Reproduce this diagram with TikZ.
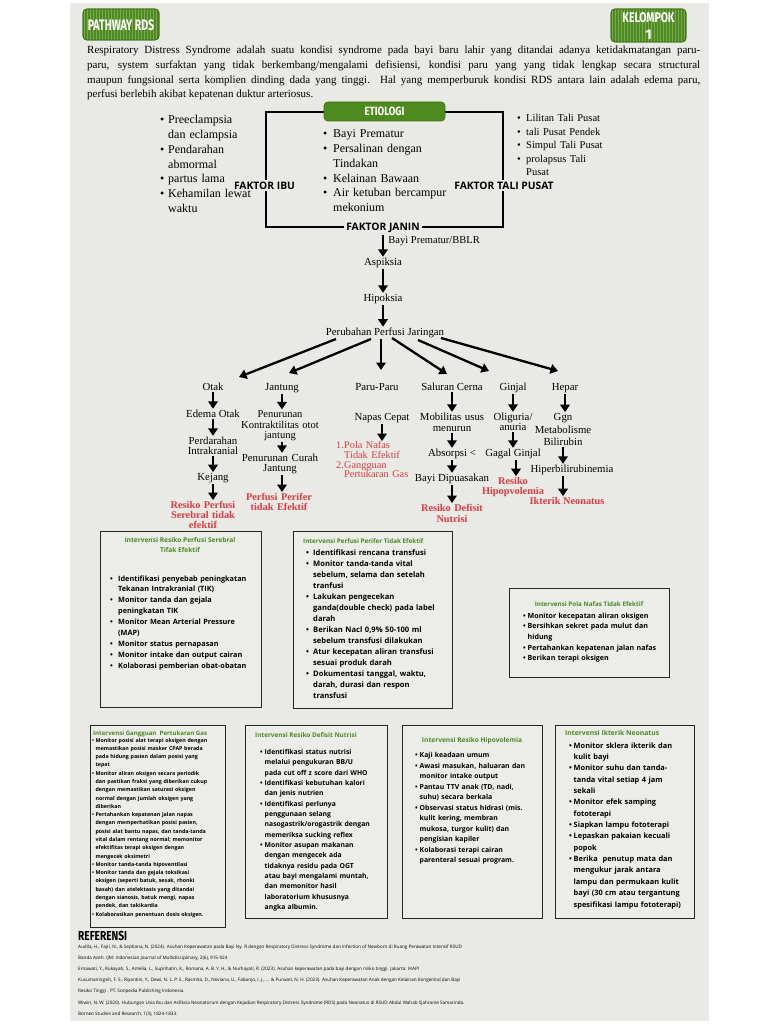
\documentclass[tikz,border=0pt]{standalone}
\usepackage{fontspec}
\usepackage{graphicx}
\usetikzlibrary{arrows.meta}
\setmainfont{Liberation Serif}
\newfontfamily\osans{Open Sans}
\newfontfamily\firaf{Fira Sans}
\definecolor{panel}{HTML}{E9E9E5}
\definecolor{boxfill}{HTML}{ECECE9}
\definecolor{gbox}{HTML}{4E8B1E}
\definecolor{gline}{HTML}{3C7412}
\definecolor{gtxt}{HTML}{4A8A22}
\definecolor{rtxt}{HTML}{E23A3F}
\newlength\bw
\newcommand\nl{\hfil\break}
\newcommand\itm[1]{\noindent\hangindent=\bw\hangafter=1\makebox[\bw][l]{•}#1\par}
\newcommand\nitm[2]{\noindent\hangindent=\bw\hangafter=1\makebox[\bw][l]{#1}#2\par}
\newcommand\fsz[2]{\fontsize{#1}{#2}\selectfont}
\begin{document}
\begin{tikzpicture}[x=1pt,y=-1pt,
  arr/.style={line width=2.3pt,-{Triangle[width=9.5pt,length=7.5pt]}},
  fl/.style={font=\fsz{10.8}{10.8}, inner sep=1pt, anchor=base},
  flm/.style={inner sep=1pt, anchor=base, align=center, text width=110pt},
  rtx/.style={text=rtxt},
  ibox/.style={draw=black!85, line width=0.8pt, fill=boxfill},
  gbx/.style={draw=gline, line width=0.8pt, fill=gbox, rounded corners=4pt},
  gtitle/.style={text=gtxt, inner sep=0pt},
  items/.style={anchor=base west, align=left, inner sep=0pt, text width=#1},
  fak/.style={font=\osans\bfseries\fsz{10.3}{10.3}, fill=panel, inner sep=2pt},
  wt/.style={text=white, font=\firaf\bfseries}
]
\useasboundingbox (0,0) rectangle (768,1024);
\fill[white] (0,0) rectangle (768,1024);
\fill[panel] (70,3) rectangle (709,1021);

% ---------- header ----------
\fill[gbx] (83,9) rectangle (159,40);
\begin{scope}
\clip[rounded corners=4pt] (83,9) rectangle (159,40);
\draw[gbox!75!white, line width=0.25pt, step=3] (83,9) grid (159,40);
\end{scope}
\draw[gline, line width=0.8pt, rounded corners=4pt] (83,9) rectangle (159,40);
\node[wt, font=\firaf\bfseries\fsz{15.2}{15.2}] (ttl) at (121,25) {\scalebox{0.69}[1]{PATHWAY RDS}};

\fill[gbx] (611,9) rectangle (686,42);
\begin{scope}
\clip[rounded corners=4pt] (611,9) rectangle (686,42);
\draw[gbox!75!white, line width=0.25pt, step=3] (611,9) grid (686,42);
\end{scope}
\draw[gline, line width=0.8pt, rounded corners=4pt] (611,9) rectangle (686,42);
\node[wt, font=\firaf\bfseries\fsz{14}{16.5}, align=center] (kel) at (648.5,26) {\scalebox{0.74}[1]{KELOMPOK}\\1};

\begin{scope}[every node/.style={anchor=base west, inner sep=0pt, font=\fsz{11}{11}}]
\node (para1) at (87,53.5) {\makebox[613pt][s]{Respiratory Distress Syndrome adalah suatu kondisi syndrome pada bayi baru lahir yang ditandai adanya ketidakmatangan paru-}};
\node (para2) at (87,68.5) {\makebox[613pt][s]{paru, system surfaktan yang tidak berkembang/mengalami defisiensi, kondisi paru yang yang tidak lengkap secara structural}};
\node (para3) at (87,83.5) {\makebox[613pt][s]{maupun fungsional serta komplien dinding dada yang tinggi. Hal yang memperburuk kondisi RDS antara lain adalah edema paru,}};
\node (para4) at (87,97.5) {perfusi berlebih akibat kepatenan duktur arteriosus.};
\end{scope}

% ---------- etiologi ----------
\draw[line width=2.2pt] (266,112) rectangle (503,227);
\fill[gbx] (324,102) rectangle (445,121);
\node[wt, font=\firaf\bfseries\fsz{12}{12}] (etio) at (384.5,111.5) {\scalebox{0.8}[1]{ETIOLOGI}};
\node[fak] (fibu) at (264.5,185.5) {FAKTOR IBU};
\node[fak] (ftali) at (504,185.5) {FAKTOR TALI PUSAT};
\node[fak] (fjanin) at (383,227.5) {FAKTOR JANIN};

\node[items=110pt, font=\fsz{12}{14.7}] (lstibu) at (160,124) {\setlength\bw{8pt}%
\itm{Preeclampsia\nl dan eclampsia}\itm{Pendarahan\nl abmormal}\itm{partus lama}\itm{Kehamilan lewat\nl waktu}};
\node[items=140pt, font=\fsz{12}{14.7}] (lstjanin) at (323,138) {\setlength\bw{10pt}%
\itm{Bayi Prematur}\itm{Persalinan dengan\nl Tindakan}\itm{Kelainan Bawaan}\itm{Air ketuban bercampur\nl mekonium}};
\node[items=100pt, font=\fsz{10.5}{13.5}] (lsttali) at (517,122) {\setlength\bw{9pt}%
\itm{Lilitan Tali Pusat}\itm{tali Pusat Pendek}\itm{Simpul Tali Pusat}\itm{prolapsus Tali\nl Pusat}};

% ---------- main flow ----------
\node[fl] (aspiksia) at (383,265.5) {Aspiksia};
\node[fl] (hipoksia) at (383,301.5) {Hipoksia};
\node[fl] (perf) at (385,335.5) {Perubahan Perfusi Jaringan};
\draw[arr] (fjanin.south) -- (fjanin.south |- aspiksia.north)
  node[pos=0.3, right=1pt, font=\fsz{10.5}{10.5}] (bblr) {Bayi Prematur/BBLR};
\draw[arr] (aspiksia.south) -- (aspiksia.south |- hipoksia.north);
\draw[arr] (hipoksia.south) -- (hipoksia.south |- perf.north);

\coordinate (f1a) at (336,339); \coordinate (f1b) at (239,377);
\coordinate (f2a) at (371,339); \coordinate (f2b) at (289,373);
\coordinate (f3a) at (381,339); \coordinate (f3b) at (381,370);
\coordinate (f4a) at (392,338); \coordinate (f4b) at (447,374);
\coordinate (f5a) at (418,340); \coordinate (f5b) at (489,371);
\coordinate (f6a) at (441,338); \coordinate (f6b) at (558,371);
\foreach \i in {1,...,6} {\draw[arr] (f\i a) -- (f\i b);}

\node[fl] (otak) at (213,390.5) {Otak};
\node[fl] (jantung) at (282,390.5) {Jantung};
\node[fl] (paru) at (377,390.5) {Paru-Paru};
\node[fl] (cerna) at (452,390.5) {Saluran Cerna};
\node[fl] (ginjal) at (513,390.5) {Ginjal};
\node[fl] (hepar) at (565,390.5) {Hepar};

% Otak
\node[fl] (edema) at (213,417.5) {Edema Otak};
\node[flm, font=\fsz{10.8}{10}] (perdarahan) at (213,444.5) {Perdarahan\\Intrakranial};
\node[fl] (kejang) at (213,480.5) {Kejang};
\node[flm, rtx, font=\bfseries\fsz{10.3}{9.8}] (rpsere) at (203,508.5) {Resiko Perfusi\\Serebral tidak\\efektif};
\draw[arr] (otak.south) -- (otak.south |- edema.north);
\draw[arr] (edema.south) -- (edema.south |- perdarahan.north);
\draw[arr] (edema.south |- perdarahan.south) -- (edema.south |- kejang.north);
\draw[arr] (kejang.south) -- (kejang.south |- rpsere.north);

% Jantung
\node[flm, font=\fsz{10.5}{10.5}] (penurunan) at (280,417.5) {Penurunan\\Kontraktilitas otot\\jantung};
\node[flm, font=\fsz{10.8}{9.5}] (curah) at (280,461.5) {Penurunan Curah\\Jantung};
\node[flm, rtx, font=\bfseries\fsz{10.3}{10}] (perifer) at (279,500.5) {Perfusi Perifer\\tidak Efektif};
\draw[arr] (jantung.south) -- (jantung.south |- penurunan.north);
\draw[arr] (jantung.south |- penurunan.south) -- (jantung.south |- curah.north);
\draw[arr] (jantung.south |- curah.south) -- (jantung.south |- perifer.north);

% Paru
\node[fl] (napas) at (382,420.5) {Napas Cepat};
\node[items=80pt, rtx, font=\fsz{10.3}{9.8}] (pola) at (336,448.5) {\setlength\bw{8pt}%
\nitm{1.}{Pola Nafas\nl Tidak Efektif}\nitm{2.}{Gangguan\nl Pertukaran Gas}};
\draw[arr] (napas.south) -- (napas.south |- pola.north);

% Saluran cerna
\node[flm, font=\fsz{10.8}{11}] (mobilitas) at (452,420.5) {Mobilitas usus\\menurun};
\node[fl] (absorpsi) at (452,456.5) {Absorpsi <};
\node[fl] (dipuasakan) at (452,481.5) {Bayi Dipuasakan};
\node[flm, rtx, font=\bfseries\fsz{10.3}{11}] (defisit) at (452,511.5) {Resiko Defisit\\Nutrisi};
\draw[arr] (cerna.south) -- (cerna.south |- mobilitas.north);
\draw[arr] (cerna.south |- mobilitas.south) -- (cerna.south |- absorpsi.north);
\draw[arr] (absorpsi.south) -- (absorpsi.south |- dipuasakan.north);
\draw[arr] (dipuasakan.south) -- (dipuasakan.south |- defisit.north);

% Ginjal
\node[flm, font=\fsz{10.8}{10}] (oliguria) at (513,420.5) {Oliguria/\\anuria};
\node[fl] (gagal) at (513,456.5) {Gagal Ginjal};
\node[flm, rtx, font=\bfseries\fsz{10.3}{10}] (hipovol) at (513,484.5) {Resiko\\Hipopvolemia};
\draw[arr] (ginjal.south) -- (ginjal.south |- oliguria.north);
\draw[arr] (ginjal.south |- oliguria.south) -- (ginjal.south |- gagal.north);
\draw[arr] ([xshift=3pt]gagal.south) -- ([xshift=3pt]gagal.south |- hipovol.north);

% Hepar
\node[flm, font=\fsz{10.8}{12.5}] (ggn) at (563,420.5) {Ggn\\Metabolisme\\Bilirubin};
\node[fl] (hiper) at (572,472.5) {Hiperbilirubinemia};
\node[fl, rtx, font=\bfseries\fsz{10.3}{10.3}] (ikterik) at (567,504.5) {Ikterik Neonatus};
\draw[arr] (hepar.south) -- (hepar.south |- ggn.north);
\draw[arr] (ggn.south) -- (ggn.south |- hiper.north);
\draw[arr] (ggn.south |- hiper.south) -- (ggn.south |- ikterik.north);

% ---------- intervention boxes row 1 ----------
\draw[ibox] (100,531) rectangle (261,707) node[pos=0, inner sep=0pt] (bA) {};
\node[gtitle, align=center, anchor=base, font=\osans\bfseries\fsz{6.6}{9.3}] (tA) at (180,552) {Intervensi Resiko Perfusi Serebral\\Tifak Efektif};
\node[items=150pt, font=\osans\bfseries\fsz{7.3}{10.9}] (iA) at (110,581) {\setlength\bw{8pt}%
\itm{Identifikasi penyebab peningkatan\nl Tekanan Intrakranial (TIK)}%
\itm{Monitor tanda dan gejala\nl peningkatan TIK}%
\itm{Monitor Mean Arterial Pressure\nl (MAP)}%
\itm{Monitor status pernapasan}%
\itm{Monitor intake dan output cairan}%
\itm{Kolaborasi pemberian obat-obatan}};

\draw[ibox] (293,531) rectangle (452,708) node[pos=0, inner sep=0pt] (bB) {};
\node[gtitle, anchor=base west, font=\osans\bfseries\fsz{6.3}{6.3}] (tB) at (303,543) {Intervensi Perfusi Perifer Tidak Efektif};
\node[items=150pt, font=\osans\bfseries\fsz{7.6}{11}] (iB) at (306,555) {\setlength\bw{7pt}%
\itm{Identifikasi rencana transfusi}%
\itm{Monitor tanda-tanda vital\nl sebelum, selama dan setelah\nl tranfusi}%
\itm{Lakukan pengecekan\nl ganda(double check) pada label\nl darah}%
\itm{Berikan Nacl 0,9\% 50-100 ml\nl sebelum transfusi dilakukan}%
\itm{Atur kecepatan aliran transfusi\nl sesuai produk darah}%
\itm{Dokumentasi tanggal, waktu,\nl darah, durasi dan respon\nl transfusi}};

\draw[ibox] (509,588) rectangle (669,677) node[pos=0, inner sep=0pt] (bC) {};
\node[gtitle, anchor=base, font=\osans\bfseries\fsz{6.3}{6.3}] (tC) at (589,606) {Intervensi Pola Nafas Tidak Efektif};
\node[items=150pt, font=\osans\bfseries\fsz{7.1}{10.7}] (iC) at (523,618) {\setlength\bw{4.5pt}%
\itm{Monitor kecepatan aliran oksigen}%
\itm{Bersihkan sekret pada mulut dan\nl hidung}%
\itm{Pertahankan kepatenan jalan nafas}%
\itm{Berikan terapi oksigen}};

% ---------- intervention boxes row 2 ----------
\draw[ibox] (90,725) rectangle (225,927) node[pos=0, inner sep=0pt] (bD) {};
\node[gtitle, anchor=base west, font=\osans\bfseries\fsz{6.1}{6.1}] (tD) at (93,735.5) {Intervensi Gangguan\ \ Pertukaran Gas};
\node[items=140pt, font=\osans\bfseries\fsz{5.3}{8.29}] (iD) at (92,742) {\setlength\bw{3.4pt}%
\itm{Monitor posisi alat terapi oksigen dengan\nl memastikan posisi masker CPAP berada\nl pada hidung pasien dalam posisi yang\nl tepat}%
\itm{Monitor aliran oksigen secara periodik\nl dan pastikan fraksi yang diberikan cukup\nl dengan memastikan saturasi oksigen\nl normal dengan jumlah oksigen yang\nl diberikan}%
\itm{Pertahankan kepatenan jalan napas\nl dengan memperhatikan posisi pasien,\nl posisi alat bantu napas, dan tanda-tanda\nl vital dalam rentang normal; memonitor\nl efektifitas terapi oksigen dengan\nl mengecek oksimetri}%
\itm{Monitor tanda-tanda hipoventilasi}%
\itm{Monitor tanda dan gejala toksikasi\nl oksigen (seperti batuk, sesak, rhonki\nl basah) dan atelektasis yang ditandai\nl dengan sianosis, batuk mengi, napas\nl pendek, dan takikardia}%
\itm{Kolaborasikan penentuan dosis oksigen.}};

\draw[ibox] (245,725) rectangle (387,918) node[pos=0, inner sep=0pt] (bE) {};
\node[gtitle, anchor=base west, font=\osans\bfseries\fsz{6.4}{6.4}] (tE) at (255,737.5) {Intervensi Resiko Defisit Nutrisi};
\node[items=130pt, font=\osans\bfseries\fsz{6.8}{10.33}] (iE) at (260,754.5) {\setlength\bw{4.5pt}%
\itm{Identifikasi status nutrisi\nl melalui pengukuran BB/U\nl pada cut off z score dari WHO}%
\itm{Identifikasi kebutuhan kalori\nl dan jenis nutrien}%
\itm{Identifikasi perlunya\nl penggunaan selang\nl nasogastrik/orogastrik dengan\nl memeriksa sucking reflex}%
\itm{Monitor asupan makanan\nl dengan mengecek ada\nl tidaknya residu pada OGT\nl atau bayi mengalami muntah,\nl dan memonitor hasil\nl laboratorium khususnya\nl angka albumin.}};

\draw[ibox] (402,725) rectangle (542,918) node[pos=0, inner sep=0pt] (bF) {};
\node[gtitle, anchor=base, font=\osans\bfseries\fsz{6.6}{6.6}] (tF) at (472,742.5) {Intervensi Resiko Hipovolemia};
\node[items=130pt, font=\osans\bfseries\fsz{6.9}{10.5}] (iF) at (415,757.5) {\setlength\bw{4.5pt}%
\itm{Kaji keadaan umum}%
\itm{Awasi masukan, haluaran dan\nl monitor intake output}%
\itm{Pantau TTV anak (TD, nadi,\nl suhu) secara berkala}%
\itm{Observasi status hidrasi (mis.\nl kulit kering, membran\nl mukosa, turgor kulit) dan\nl pengisian kapiler}%
\itm{Kolaborasi terapi cairan\nl parenteral sesuai program.}};

\draw[ibox] (555,725) rectangle (694,918) node[pos=0, inner sep=0pt] (bG) {};
\node[gtitle, anchor=base west, font=\osans\bfseries\fsz{6.8}{6.8}] (tG) at (565,735.5) {Intervensi Ikterik Neonatus};
\node[items=135pt, font=\osans\bfseries\fsz{7.4}{11.36}] (iG) at (569,748) {\setlength\bw{4.5pt}%
\itm{Monitor sklera ikterik dan\nl kulit bayi}%
\itm{Monitor suhu dan tanda-\nl tanda vital setiap 4 jam\nl sekali}%
\itm{Monitor efek samping\nl fototerapi}%
\itm{Siapkan lampu fototerapi}%
\itm{Lepaskan pakaian kecuali\nl popok}%
\itm{Berika\ \ penutup mata dan\nl mengukur jarak antara\nl lampu dan permukaan kulit\nl bayi (30 cm atau tergantung\nl spesifikasi lampu fototerapi)}};

% ---------- references ----------
\node[anchor=base west, inner sep=0pt, font=\firaf\bfseries\fsz{13}{13}] (refh) at (78,940) {\scalebox{0.78}[1]{REFERENSI}};
\begin{scope}[every node/.style={anchor=base west, inner sep=0pt, font=\osans\fsz{4.6}{4.6}}]
\node (ref1) at (78,948) {Audila, H., Fajri, N., \& Septiana, N. (2024). Asuhan Keperawatan pada Bayi Ny. R dengan Respiratory Distress Syndrome dan Infection of Newborn di Ruang Perawatan Intensif RSUD};
\node (ref2) at (78,959.2) {Banda Aceh. IJM: Indonesian Journal of Multidisciplinary, 2(6), 915-924};
\node (ref3) at (78,970.4) {Ernawati, Y., Rukayah, S., Amelia, L., Suprihatin, K., Romana, A. B. Y. H., \& Nurhayati, R. (2023). Asuhan keperawatan pada bayi dengan risiko tinggi. Jakarta: IKAPI};
\node (ref4) at (78,981.6) {Kusumaningsih, F. S., Riyantini, Y., Dewi, N. L. P. S., Rasmita, D., Noviana, U., Fabanjo, I. J., ... \& Purwati, N. H. (2023). Asuhan Keperawatan Anak dengan Kelainan Kongenital dan Bayi};
\node (ref5) at (78,992.8) {Resiko Tinggi . PT. Sonpedia Publishing Indonesia.};
\node (ref6) at (78,1004) {Wiwin, N. W. (2020). Hubungan Usia Ibu dan Asfiksia Neonatorum dengan Kejadian Respiratory Distress Syndrome (RDS) pada Neonatus di RSUD Abdul Wahab Sjahranie Samarinda.};
\node (ref7) at (78,1015.2) {Borneo Studies and Research, 1(3), 1824-1833.};
\end{scope}
\end{tikzpicture}
\end{document}
